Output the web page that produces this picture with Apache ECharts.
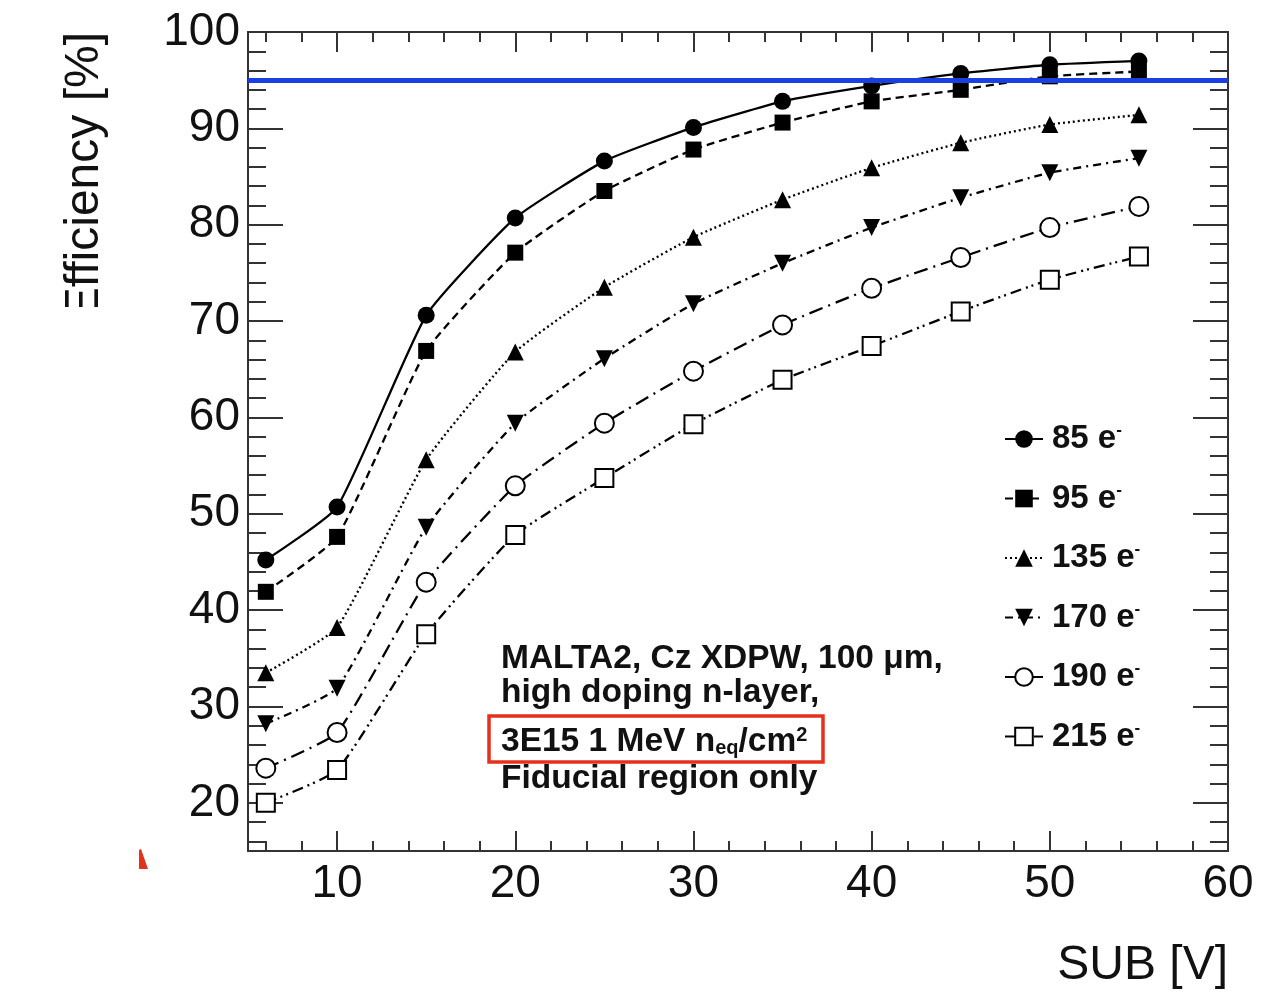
<!DOCTYPE html>
<html>
<head>
<meta charset="utf-8">
<script src="https://cdn.jsdelivr.net/npm/echarts@6/dist/echarts.min.js"></script>
<style>
  html, body { margin: 0; padding: 0; background: #fff; }
  #chart { width: 1276px; height: 994px; }
</style>
</head>
<body>
<div id="chart"></div>
<script>
// Substrate bias voltage (V)
const voltages = [6, 10, 15, 20, 25, 30, 35, 40, 45, 50, 55];

// Efficiency (%) for each threshold setting
const eff85  = [45.2, 50.7, 70.6, 80.7, 86.6, 90.1, 92.8, 94.4, 95.7, 96.6, 97.0];
const eff95  = [41.9, 47.6, 66.9, 77.1, 83.5, 87.8, 90.6, 92.8, 94.0, 95.4, 95.9];
const eff135 = [33.5, 38.2, 55.6, 66.8, 73.5, 78.7, 82.6, 85.9, 88.5, 90.4, 91.4];
const eff170 = [28.2, 31.9, 48.6, 59.4, 66.1, 71.8, 76.0, 79.7, 82.8, 85.4, 86.9];
const eff190 = [23.6, 27.3, 42.9, 52.9, 59.4, 64.8, 69.6, 73.4, 76.6, 79.7, 81.9];
const eff215 = [20.0, 23.4, 37.5, 47.8, 53.7, 59.3, 63.9, 67.4, 71.0, 74.3, 76.7];

const thresholds = ['85', '95', '135', '170', '190', '215'];
const targetEfficiency = 95;

// Axis labels
const xTickLabels = [10, 20, 30, 40, 50, 60];
const yTickLabels = [20, 30, 40, 50, 60, 70, 80, 90, 100];

const X_MIN = 5, X_MAX = 60, Y_MIN = 15, Y_MAX = 100;

// Minor ticks every 2 units between the labelled ones
function minorTicks(lo, hi, major) {
  const out = [];
  for (let v = Math.ceil(lo / 2) * 2; v <= hi; v += 2) {
    if (major.indexOf(v) < 0) out.push(v);
  }
  return out;
}
const xMinor = minorTicks(X_MIN, X_MAX, xTickLabels);
const yMinor = minorTicks(Y_MIN, Y_MAX, yTickLabels);

const FONT = "'Liberation Sans', Arial, Helvetica, sans-serif";
const INK = '#111';
const tickLine = { color: '#333', width: 2 };

function xAxisDef(position, ticks, len, withLabels) {
  return {
    type: 'value', min: X_MIN, max: X_MAX, position: position,
    axisLine: { show: false }, splitLine: { show: false },
    axisTick: { show: true, inside: true, length: len, customValues: ticks, lineStyle: tickLine },
    axisLabel: withLabels
      ? { show: true, customValues: xTickLabels, fontSize: 46, fontFamily: FONT, color: INK, margin: 10 }
      : { show: false }
  };
}
function yAxisDef(position, ticks, len, withLabels) {
  return {
    type: 'value', min: Y_MIN, max: Y_MAX, position: position,
    axisLine: { show: false }, splitLine: { show: false },
    axisTick: { show: true, inside: true, length: len, customValues: ticks, lineStyle: tickLine },
    axisLabel: withLabels
      ? { show: true, customValues: yTickLabels, fontSize: 46, fontFamily: FONT, color: INK, margin: 8 }
      : { show: false }
  };
}

function curve(label, values, symbol, size, dash, rotate) {
  return {
    name: label + ' e-',
    type: 'line',
    xAxisIndex: 0, yAxisIndex: 0,
    data: voltages.map((v, i) => [v, values[i]]),
    smooth: 0.15,
    symbol: symbol,
    symbolSize: size,
    symbolRotate: rotate || 0,
    showSymbol: true,
    color: '#000',
    itemStyle: { color: '#000', borderColor: '#000', borderWidth: symbol.indexOf('empty') === 0 ? 1.8 : 0 },
    lineStyle: { color: '#000', width: 2.3, type: dash },
    z: 3
  };
}

const series = [
  curve(thresholds[0], eff85, 'circle', 17, 'solid'),
  curve(thresholds[1], eff95, 'rect', 16, [8, 5]),
  curve(thresholds[2], eff135, 'triangle', 17, [2, 3]),
  curve(thresholds[3], eff170, 'triangle', 17, [8, 5, 2, 5], 180),
  curve(thresholds[4], eff190, 'emptyCircle', 19, [14, 6, 2, 6]),
  curve(thresholds[5], eff215, 'emptyRect', 18, [11, 5, 2, 4, 2, 5])
];

// 95 % efficiency reference line
series[0].markLine = {
  silent: true,
  symbol: ['none', 'none'],
  label: { show: false },
  lineStyle: { color: '#1c3fe2', width: 5, type: 'solid' },
  data: [{ yAxis: targetEfficiency }],
  z: 10
};

const chart = echarts.init(document.getElementById('chart'), null, { renderer: 'canvas' });

chart.setOption({
  animation: false,
  backgroundColor: '#fff',
  grid: {
    left: 248, right: 48, top: 32, bottom: 143,
    show: true, borderColor: '#333', borderWidth: 2, backgroundColor: 'transparent'
  },
  xAxis: [
    xAxisDef('bottom', xTickLabels, 20, true),
    xAxisDef('bottom', xMinor, 10, false),
    xAxisDef('top', xTickLabels, 20, false),
    xAxisDef('top', xMinor, 10, false)
  ],
  yAxis: [
    yAxisDef('left', yTickLabels, 35, true),
    yAxisDef('left', yMinor, 18, false),
    yAxisDef('right', yTickLabels, 35, false),
    yAxisDef('right', yMinor, 18, false)
  ],
  legend: {
    orient: 'vertical',
    left: 999, top: 417,
    itemWidth: 38, itemHeight: 22, itemGap: 26,
    data: series.map(s => s.name),
    formatter: name => '{n|' + name.slice(0, -1) + '}{s|-}',
    textStyle: {
      padding: [0, 0, 0, 4],
      rich: {
        n: { fontSize: 33, fontWeight: 'bold', fontFamily: FONT, color: INK, lineHeight: 34 },
        s: { fontSize: 17, fontWeight: 'bold', fontFamily: FONT, color: INK, verticalAlign: 'top', lineHeight: 17 }
      }
    }
  },
  graphic: [
    {
      type: 'text', x: 85, y: 32, rotation: Math.PI / 2, z: 50,
      style: { text: 'Efficiency [%]', font: '48px ' + FONT, fill: INK, align: 'right', verticalAlign: 'middle' }
    },
    { type: 'rect', z: 60, shape: { x: 50, y: 307, width: 80, height: 40 }, style: { fill: '#fff' } },
    {
      type: 'text', x: 1228, y: 966, z: 50,
      style: { text: 'SUB [V]', font: '48px ' + FONT, fill: INK, align: 'right', verticalAlign: 'middle' }
    },
    {
      type: 'polygon', z: 50,
      shape: { points: [[139, 850], [141, 849], [148, 869], [139, 869]] },
      style: { fill: '#e3311d' }
    },
    {
      type: 'text', x: 501, y: 659, z: 50,
      style: { text: 'MALTA2, Cz XDPW, 100 μm,', font: 'bold 33.5px ' + FONT, fill: INK, align: 'left', verticalAlign: 'middle' }
    },
    {
      type: 'text', x: 501, y: 693, z: 50,
      style: { text: 'high doping n-layer,', font: 'bold 33.5px ' + FONT, fill: INK, align: 'left', verticalAlign: 'middle' }
    },
    {
      type: 'text', x: 501, y: 742, z: 50,
      style: {
        text: '{a|3E15 1 MeV n}{b|eq}{a|/cm}{c|2}',
        align: 'left', verticalAlign: 'middle',
        rich: {
          a: { font: 'bold 33.5px ' + FONT, fill: INK, lineHeight: 33 },
          b: { font: 'bold 20px ' + FONT, fill: INK, verticalAlign: 'bottom', lineHeight: 14 },
          c: { font: 'bold 20px ' + FONT, fill: INK, verticalAlign: 'top', lineHeight: 22 }
        }
      }
    },
    {
      type: 'text', x: 501, y: 779, z: 50,
      style: { text: 'Fiducial region only', font: 'bold 33.5px ' + FONT, fill: INK, align: 'left', verticalAlign: 'middle' }
    },
    {
      type: 'rect', z: 50,
      shape: { x: 489, y: 716, width: 334, height: 46 },
      style: { fill: 'none', stroke: '#e3311d', lineWidth: 3.5 }
    }
  ],
  series: series
});
</script>
</body>
</html>
